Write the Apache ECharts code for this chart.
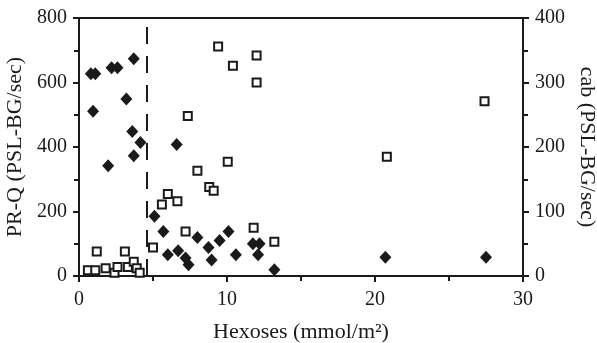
<!DOCTYPE html>
<html><head><meta charset="utf-8">
<script src="https://cdn.jsdelivr.net/npm/echarts@6/dist/echarts.min.js"></script>
<style>html,body{margin:0;padding:0;background:#fff}#c{width:597px;height:343px}</style>
</head><body><div id="c"></div>
<script>
const prqX = [0.8,1.1,2.2,2.6,3.7,0.95,3.2,3.6,4.15,3.7,1.97,6.6,5.1,5.7,6.0,6.7,7.2,7.4,8.0,8.75,8.96,9.5,10.1,10.6,11.75,12.2,12.1,13.2,20.7,27.5];
const prqY = [627,627,646,646,674,511,549,448,414,373,342,408,185,138,66,78,56,35,119,88,50,110,138,66,100,100,66,19,58,58];
const cabX = [0.6,1.1,1.2,1.8,2.4,2.6,3.1,3.3,3.7,3.9,4.1,5.0,5.6,6.0,6.65,7.2,8.0,8.8,9.1,10.05,11.8,13.2,9.4,10.4,12.0,12.0,7.35,20.8,27.4];
const cabY = [9,9,38,12,5,14,38,14,22,12,5,44,111,127,116,69,163,138,132,177,75,53,356,326,342,300,248,185,271];
const cutoffX = 4.6;

const ink = '#1a1a1a';
const font = 'Liberation Serif';
const chart = echarts.init(document.getElementById('c'));
const line = () => ({show:true, onZero:false, lineStyle:{color:ink, width:2, opacity:1}});
const tick = () => ({show:true, length:6, lineStyle:{color:ink, width:2}});
const minor = () => ({show:true, splitNumber:2, length:5, lineStyle:{color:ink, width:2}});
const lbl = (m) => ({fontFamily:font, fontSize:20, color:ink, margin:m});
const nameStyle = () => ({fontFamily:font, fontSize:22, color:ink});
chart.setOption({
  animation:false,
  grid:{left:79, right:74, top:18, bottom:67, containLabel:false, outerBoundsMode:'none'},
  xAxis:[{
    type:'value', min:0, max:30, interval:10,
    name:'Hexoses (mmol/m²)', nameLocation:'middle', nameGap:45,
    nameTextStyle:nameStyle(),
    axisLine:line(), axisTick:tick(), minorTick:minor(),
    axisLabel:lbl(14),
    splitLine:{show:false}, minorSplitLine:{show:false}
  },{
    type:'value', min:0, max:30, position:'top',
    axisLine:line(), axisTick:{show:false}, axisLabel:{show:false}, splitLine:{show:false}
  }],
  yAxis:[{
    type:'value', min:0, max:800, interval:200, position:'left',
    name:'PR-Q (PSL-BG/sec)', nameLocation:'middle', nameGap:52,
    nameTextStyle:nameStyle(),
    axisLine:line(), axisTick:tick(), minorTick:minor(),
    axisLabel:lbl(12),
    splitLine:{show:false}
  },{
    type:'value', min:0, max:400, interval:100, position:'right',
    name:'cab (PSL-BG/sec)', nameLocation:'middle', nameGap:53, nameRotate:-90,
    nameTextStyle:nameStyle(),
    axisLine:line(), axisTick:tick(), minorTick:minor(),
    axisLabel:lbl(12),
    splitLine:{show:false}
  }],
  series:[{
    name:'PR-Q', type:'scatter', xAxisIndex:0, yAxisIndex:0,
    data: prqX.map((x,i)=>[x, prqY[i]]),
    symbol:'diamond', symbolSize:[12,13],
    itemStyle:{color:ink, opacity:1},
    markLine:{
      silent:true, symbol:'none', label:{show:false},
      lineStyle:{color:ink, width:2, type:[17,12], opacity:1},
      data:[{xAxis:cutoffX}]
    },
    z:3
  },{
    name:'cab', type:'scatter', xAxisIndex:0, yAxisIndex:1,
    data: cabX.map((x,i)=>[x, cabY[i]]),
    symbol:'rect', symbolSize:8,
    itemStyle:{color:'#fff', borderColor:ink, borderWidth:2, opacity:1},
    z:4
  }]
});
</script></body></html>
